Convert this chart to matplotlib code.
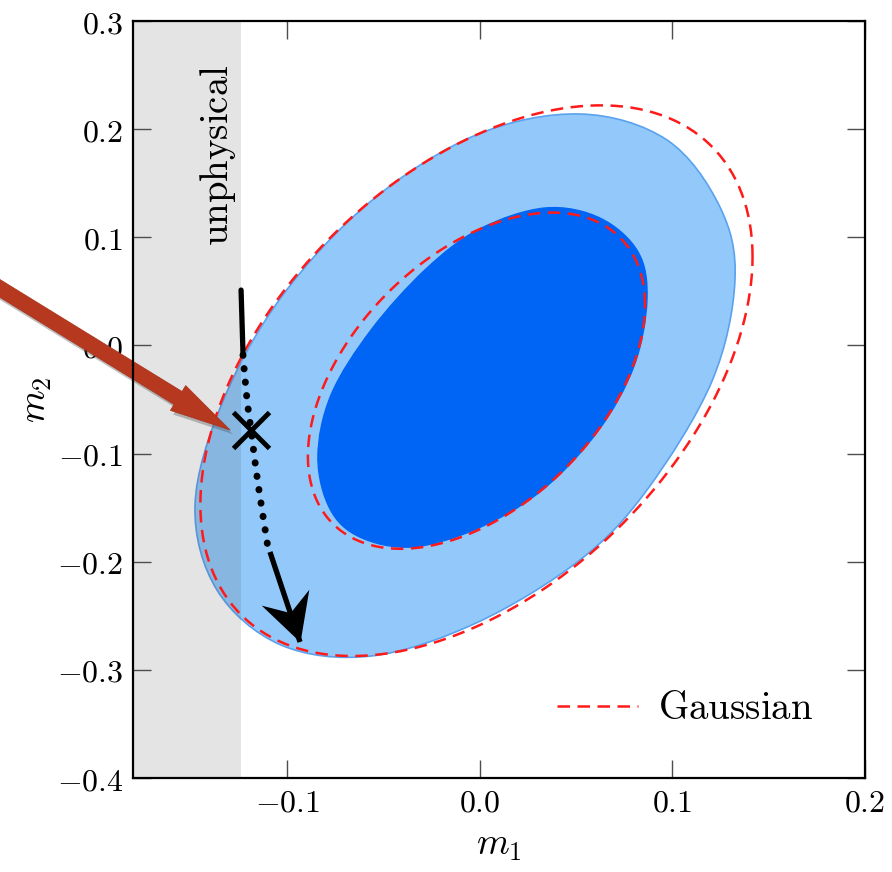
import numpy as np
import matplotlib
matplotlib.use("Agg")
import matplotlib.pyplot as plt
from matplotlib.path import Path
from matplotlib.patches import PathPatch
from matplotlib.lines import Line2D
from matplotlib.markers import MarkerStyle
from matplotlib.transforms import Affine2D
import matplotlib.patheffects as pe

plt.rcParams['mathtext.fontset'] = 'cm'

# ---------------- data ----------------
xlim = (-0.18, 0.2)
ylim = (-0.4, 0.3)
xticks = [-0.1, 0.0, 0.1, 0.2]
xtick_labels = [r'$-0.1$', r'$0.0$', r'$0.1$', r'$0.2$']
yticks = [-0.4, -0.3, -0.2, -0.1, 0.0, 0.1, 0.2, 0.3]
ytick_labels = [r'$-0.4$', r'$-0.3$', r'$-0.2$', r'$-0.1$', r'$0.0$', r'$0.1$', r'$0.2$', r'$0.3$']

unphysical_limit = -0.124

# 95% credible region of the true posterior (filled, light)
outer_x = [0.1325, 0.1247, 0.0972, 0.0520, -0.0019, -0.0564, -0.1026, -0.1333,
           -0.1478, -0.1364, -0.1032, -0.0564, -0.0019, 0.0520, 0.0868, 0.1206]
outer_y = [0.0605, 0.1280, 0.1900, 0.2140, 0.1946, 0.1335, 0.0457, -0.0514,
           -0.1476, -0.2262, -0.2770, -0.2872, -0.2567, -0.1984, -0.1337, -0.0329]

# 68% credible region of the true posterior (filled, dark)
inner_x = [0.0868, 0.0822, 0.0624, 0.0339, 0.0000, -0.0279, -0.0564, -0.0772,
           -0.0840, -0.0777, -0.0622, -0.0352, -0.0019, 0.0318, 0.0614, 0.0801]
inner_y = [0.0420, 0.0864, 0.1178, 0.1271, 0.1077, 0.0707, 0.0143, -0.0458,
           -0.1032, -0.1513, -0.1772, -0.1864, -0.1698, -0.1346, -0.0791, -0.0190]

# Gaussian approximation: mean, standard deviations, correlation, contour levels (delta chi^2)
gauss_mean = [-0.0017, -0.0326]
gauss_sigma = [0.0577, 0.1025]
gauss_rho = 0.45
gauss_levels = [2.30, 6.17]

# black trajectory arrow
traj_top_x = [-0.1239, -0.1229]
traj_top_y = [0.0512, -0.007]
traj_dot_x = [-0.1229, -0.1208, -0.1187, -0.1161, -0.113, -0.1099]
traj_dot_y = [-0.0089, -0.0505, -0.0782, -0.1152, -0.1522, -0.1873]
traj_end_x = [-0.1089, -0.0933]
traj_end_y = [-0.191, -0.2742]

# marked point
point_x = [-0.119]
point_y = [-0.078]

# red pointer arrow (tail, tip)
pointer_tail = (-0.2594, 0.0640)
pointer_tip = (-0.1296, -0.0782)


# ---------------- helpers ----------------
def smooth_path(xs, ys, closed=True):
    """Catmull-Rom curve through the read points, rendered as cubic Beziers."""
    p = np.column_stack([xs, ys]).astype(float)
    n = len(p)
    verts = [p[0]]
    codes = [Path.MOVETO]
    rng = range(n) if closed else range(n - 1)
    for i in rng:
        p0 = p[(i - 1) % n] if (closed or i > 0) else p[i]
        p1 = p[i % n]
        p2 = p[(i + 1) % n]
        p3 = p[(i + 2) % n] if (closed or i + 2 < n) else p2
        c1 = p1 + (p2 - p0) / 6.0
        c2 = p2 - (p3 - p1) / 6.0
        verts += [c1, c2, p2]
        codes += [Path.CURVE4] * 3
    if closed:
        verts.append(p[0])
        codes.append(Path.CLOSEPOLY)
    return Path(np.array(verts), codes)


def gauss_contour(mean, sigma, rho, level, n=361):
    sx, sy = sigma
    cov = np.array([[sx * sx, rho * sx * sy], [rho * sx * sy, sy * sy]])
    L = np.linalg.cholesky(cov)
    t = np.linspace(0, 2 * np.pi, n)
    circ = np.sqrt(level) * np.vstack([np.cos(t), np.sin(t)])
    pts = L @ circ
    return mean[0] + pts[0], mean[1] + pts[1]


# ---------------- figure ----------------
W, H = 892, 872
fig = plt.figure(figsize=(W / 100, H / 100), dpi=100)
ax = fig.add_axes([133 / W, (H - 778) / H, 732 / W, 757 / H])
ax.set_xlim(*xlim)
ax.set_ylim(*ylim)

light = '#92c9fa'
dark = '#0064f4'
edge = '#5aa2ee'
red = '#ff1a1a'

ax.add_patch(PathPatch(smooth_path(outer_x, outer_y), facecolor=light, edgecolor=edge, lw=1.2, zorder=1))
ax.add_patch(PathPatch(smooth_path(inner_x, inner_y), facecolor=dark, edgecolor=dark, lw=1.0, zorder=1.1))

ax.axvspan(xlim[0], unphysical_limit, color=(0.3, 0.3, 0.3), alpha=0.15, lw=0, zorder=2)

dash = (0, (5, 3))
for lev in gauss_levels:
    gx, gy = gauss_contour(gauss_mean, gauss_sigma, gauss_rho, lev)
    ax.plot(gx, gy, color=red, lw=1.8, linestyle=dash, zorder=3)

# trajectory
ax.plot(traj_top_x, traj_top_y, color='k', lw=3.8, solid_capstyle='round', zorder=5)
ax.add_patch(PathPatch(smooth_path(traj_dot_x, traj_dot_y, closed=False), facecolor='none',
                       edgecolor='k', lw=5.0, linestyle=(0, (0.05, 1.9)), capstyle='round', zorder=5))
ax.plot(traj_end_x, traj_end_y, color='k', lw=3.8, solid_capstyle='butt', zorder=5)
# concave (stealth-like) arrow head at the end of the trajectory
p0 = ax.transData.transform((traj_end_x[0], traj_end_y[0]))
p1 = ax.transData.transform((traj_end_x[1], traj_end_y[1]))
ang = np.degrees(np.arctan2(p1[1] - p0[1], p1[0] - p0[0]))
head = Path([(0, 0), (-1.6, 0.85), (-1.05, 0), (-1.6, -0.85), (0, 0)],
            [Path.MOVETO, Path.LINETO, Path.LINETO, Path.LINETO, Path.CLOSEPOLY])
ax.plot([traj_end_x[1]], [traj_end_y[1]], ls='none', color='k', ms=68, mew=0,
        marker=MarkerStyle(head, transform=Affine2D().rotate_deg(ang)), zorder=5)

ax.plot(point_x, point_y, marker='x', ms=26, mew=3.5, color='k', ls='none', zorder=6)

# unphysical label
ax.text(-0.1359, 0.176, r'$\mathrm{unphysical}$', rotation=90, ha='center', va='center',
        fontsize=28, zorder=4)

# red pointer arrow
ax.annotate('', xy=pointer_tip, xytext=pointer_tail, annotation_clip=False,
            arrowprops=dict(arrowstyle='simple,head_length=4.4,head_width=2.1,tail_width=1.1',
                            mutation_scale=10, facecolor='#b5381f', edgecolor='#a8331c', lw=0.5,
                            shrinkA=0, shrinkB=0, clip_on=False,
                            path_effects=[pe.SimplePatchShadow(offset=(2, -3), alpha=0.35, shadow_rgbFace='0.3'),
                                          pe.Normal()]),
            zorder=8)

# axes styling
ax.set_xticks(xticks)
ax.set_xticklabels(xtick_labels)
ax.set_yticks(yticks)
ax.set_yticklabels(ytick_labels)
ax.tick_params(direction='in', length=13, width=1.0, color='0.3', top=True, right=True,
               labelsize=23, pad=7)
for s in ax.spines.values():
    s.set_linewidth(1.6)
    s.set_color('k')
    s.set_zorder(10)

ax.set_xlabel(r'$m_1$', fontsize=27, labelpad=6)
ax.set_ylabel(r'$m_2$', fontsize=27, labelpad=2)

# legend
h = Line2D([], [], color=red, lw=1.8, linestyle=dash)
ax.legend([h], [r'$\mathrm{Gaussian}$'], loc='center left', bbox_to_anchor=(0.531, 0.092),
          frameon=False, fontsize=28, handlelength=2.1, handletextpad=0.5)

fig.savefig('out.png', dpi=100)
